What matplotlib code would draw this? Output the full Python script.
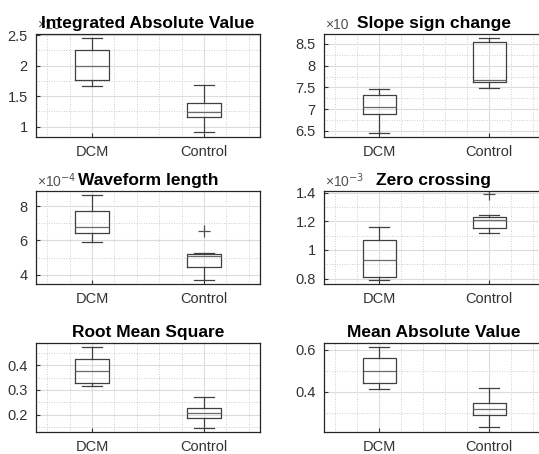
import matplotlib
matplotlib.use("Agg")
import matplotlib.pyplot as plt
from matplotlib.ticker import AutoMinorLocator, FuncFormatter, MultipleLocator

plt.rcParams['font.family'] = ['Liberation Sans', 'DejaVu Sans']

categories = ["DCM", "Control"]

titles = ["Integrated Absolute Value", "Slope sign change", "Waveform length",
          "Zero crossing", "Root Mean Square", "Mean Absolute Value"]
offset_labels = ["×10", "×10", "×10$^{-4}$", "×10$^{-3}$", "", ""]

# five-number summaries per group: [low whisker, Q1, median, Q3, high whisker]
iav_dcm = [1.66, 1.77, 2.00, 2.25, 2.46]
iav_ctrl = [0.91, 1.16, 1.245, 1.38, 1.68]
ssc_dcm = [6.46, 6.90, 7.06, 7.33, 7.46]
ssc_ctrl = [7.48, 7.63, 7.67, 8.54, 8.63]
wl_dcm = [5.93, 6.42, 6.77, 7.71, 8.68]
wl_ctrl = [3.71, 4.48, 5.10, 5.22, 5.26]
zc_dcm = [0.793, 0.815, 0.932, 1.068, 1.158]
zc_ctrl = [1.117, 1.150, 1.207, 1.233, 1.247]
rms_dcm = [0.317, 0.327, 0.376, 0.424, 0.472]
rms_ctrl = [0.149, 0.187, 0.207, 0.227, 0.271]
mav_dcm = [0.413, 0.440, 0.498, 0.561, 0.612]
mav_ctrl = [0.230, 0.290, 0.317, 0.345, 0.419]

# outliers
wl_ctrl_out = [6.55]
zc_ctrl_out = [1.388]

groups = [
    (iav_dcm, iav_ctrl, [], []),
    (ssc_dcm, ssc_ctrl, [], []),
    (wl_dcm, wl_ctrl, [], wl_ctrl_out),
    (zc_dcm, zc_ctrl, [], zc_ctrl_out),
    (rms_dcm, rms_ctrl, [], []),
    (mav_dcm, mav_ctrl, [], []),
]

ylims = [(0.83, 2.52), (6.36, 8.73), (3.46, 8.89), (0.763, 1.411), (0.131, 0.489), (0.208, 0.631)]
ymajor = [0.5, 0.5, 2, 0.2, 0.1, 0.2]

fig = plt.figure(figsize=(5.39, 4.54), dpi=100)
H = 454.0
W = 539.0
rows = [(34, 137), (191, 284), (343, 432)]
cols = [(36, 260), (324, 544)]

edge = '#404040'
for i in range(6):
    r, c = divmod(i, 2)
    top, bot = rows[r]
    left, right = cols[c]
    ax = fig.add_axes([left / W, (H - bot) / H, (right - left) / W, (bot - top) / H])
    d, ct, d_out, c_out = groups[i]
    stats = []
    for lab, s, out in [(categories[0], d, d_out), (categories[1], ct, c_out)]:
        stats.append(dict(label=lab, whislo=s[0], q1=s[1], med=s[2], q3=s[3], whishi=s[4], fliers=out))
    ax.bxp(stats, positions=[1, 2], widths=0.3, capwidths=0.18, showfliers=True,
           boxprops=dict(color=edge, linewidth=0.9),
           whiskerprops=dict(color=edge, linewidth=0.9, linestyle='-'),
           capprops=dict(color=edge, linewidth=0.9),
           medianprops=dict(color='#6a6a6a', linewidth=0.9),
           flierprops=dict(marker='+', markeredgecolor='#505050', markersize=8, markeredgewidth=0.9))
    ax.set_xlim(0.5, 2.5)
    ax.set_ylim(*ylims[i])
    ax.yaxis.set_major_locator(MultipleLocator(ymajor[i]))
    ax.yaxis.set_minor_locator(AutoMinorLocator(2))
    ax.xaxis.set_minor_locator(MultipleLocator(0.2))
    ax.yaxis.set_major_formatter(FuncFormatter(lambda v, p: ('%g' % round(v, 6))))
    ax.grid(True, which='major', color='#dcdcdc', linewidth=0.8, linestyle='-')
    ax.grid(True, which='minor', color='#bdbdbd', linewidth=0.6, linestyle=(0, (1, 2)))
    ax.set_axisbelow(True)
    ax.tick_params(axis='both', which='major', direction='in', length=3, width=0.8,
                   labelsize=10.5, colors='#333333', pad=6)
    ax.tick_params(axis='both', which='minor', length=0)
    for sp in ax.spines.values():
        sp.set_color('#262626')
        sp.set_linewidth(0.9)
    if offset_labels[i]:
        ax.text(0.005, 1.015, offset_labels[i], transform=ax.transAxes, ha='left', va='bottom',
                fontsize=10, color='#505050', zorder=1)
    t = ax.set_title(titles[i], fontsize=12.5, fontweight='bold', pad=4, color='black')
    t.set_zorder(5)

fig.savefig("out.png", dpi=100)
